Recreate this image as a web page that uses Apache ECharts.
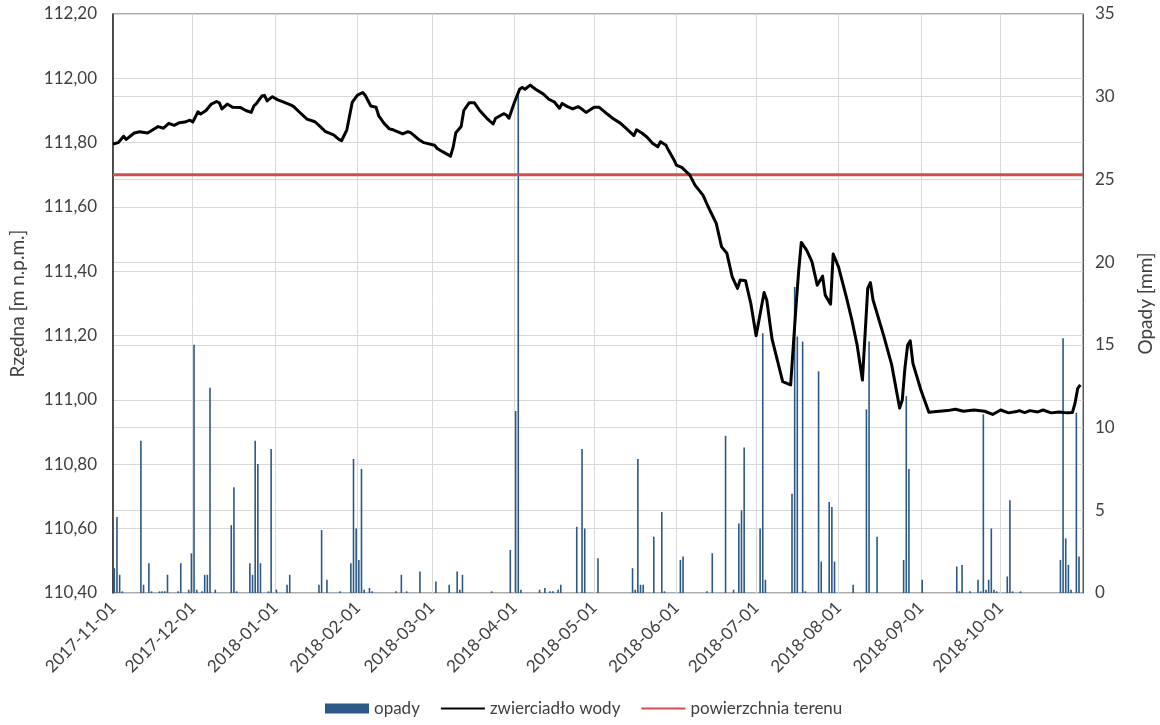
<!DOCTYPE html>
<html>
<head>
<meta charset="utf-8">
<title>Zwierciadło wody i opady</title>
<script src="https://cdn.jsdelivr.net/npm/echarts@6/dist/echarts.min.js"></script>
<style>
  html, body { margin: 0; padding: 0; background: #ffffff; }
  #chart { width: 1160px; height: 725px; }
</style>
</head>
<body>
<div id="chart"></div>
<script>
// Month starts used for ticks, labels and vertical grid lines
const monthTicks = [
  '2017-11-01', '2017-12-01', '2018-01-01', '2018-02-01', '2018-03-01', '2018-04-01',
  '2018-05-01', '2018-06-01', '2018-07-01', '2018-08-01', '2018-09-01', '2018-10-01'
];
const axisStart = '2017-11-01';
const axisEnd = '2018-11-01';

// Ground-water table [m n.p.m.]
const levelDates = [
  '2017-11-01', '2017-11-03', '2017-11-05', '2017-11-06', '2017-11-09', '2017-11-11', '2017-11-14',
  '2017-11-16', '2017-11-18', '2017-11-20', '2017-11-22', '2017-11-24', '2017-11-26', '2017-11-28',
  '2017-11-30', '2017-12-01', '2017-12-03', '2017-12-04', '2017-12-06', '2017-12-08', '2017-12-10',
  '2017-12-11', '2017-12-12', '2017-12-14', '2017-12-16', '2017-12-19', '2017-12-21', '2017-12-23',
  '2017-12-24', '2017-12-25', '2017-12-27', '2017-12-28', '2017-12-29', '2017-12-31', '2018-01-02',
  '2018-01-04', '2018-01-07', '2018-01-08', '2018-01-10', '2018-01-13', '2018-01-16', '2018-01-18',
  '2018-01-20', '2018-01-23', '2018-01-25', '2018-01-26', '2018-01-28', '2018-01-30', '2018-02-01',
  '2018-02-03', '2018-02-04', '2018-02-06', '2018-02-08', '2018-02-09', '2018-02-11', '2018-02-13',
  '2018-02-14', '2018-02-18', '2018-02-20', '2018-02-21', '2018-02-24', '2018-02-26', '2018-03-02',
  '2018-03-03', '2018-03-05', '2018-03-08', '2018-03-09', '2018-03-10', '2018-03-12', '2018-03-13',
  '2018-03-15', '2018-03-17', '2018-03-19', '2018-03-22', '2018-03-24', '2018-03-25', '2018-03-28',
  '2018-03-29', '2018-03-30', '2018-04-01', '2018-04-03', '2018-04-04', '2018-04-05', '2018-04-07',
  '2018-04-09', '2018-04-12', '2018-04-14', '2018-04-16', '2018-04-18', '2018-04-19', '2018-04-21',
  '2018-04-23', '2018-04-25', '2018-04-26', '2018-04-28', '2018-05-01', '2018-05-03', '2018-05-06',
  '2018-05-08', '2018-05-11', '2018-05-13', '2018-05-16', '2018-05-17', '2018-05-19', '2018-05-21',
  '2018-05-23', '2018-05-25', '2018-05-26', '2018-05-28', '2018-05-29', '2018-05-31', '2018-06-01',
  '2018-06-03', '2018-06-06', '2018-06-08', '2018-06-11', '2018-06-13', '2018-06-16', '2018-06-18',
  '2018-06-20', '2018-06-22', '2018-06-24', '2018-06-25', '2018-06-27', '2018-06-29', '2018-07-01',
  '2018-07-04', '2018-07-05', '2018-07-07', '2018-07-11', '2018-07-14', '2018-07-15', '2018-07-16',
  '2018-07-17', '2018-07-18', '2018-07-20', '2018-07-22', '2018-07-24', '2018-07-26', '2018-07-27',
  '2018-07-29', '2018-07-30', '2018-08-01', '2018-08-04', '2018-08-06', '2018-08-08', '2018-08-10',
  '2018-08-12', '2018-08-13', '2018-08-14', '2018-08-18', '2018-08-21', '2018-08-24', '2018-08-25',
  '2018-08-26', '2018-08-27', '2018-08-28', '2018-08-29', '2018-09-01', '2018-09-04', '2018-09-11',
  '2018-09-14', '2018-09-17', '2018-09-21', '2018-09-25', '2018-09-28', '2018-10-01', '2018-10-04',
  '2018-10-07', '2018-10-08', '2018-10-10', '2018-10-12', '2018-10-15', '2018-10-17', '2018-10-20',
  '2018-10-23', '2018-10-26', '2018-10-28', '2018-10-29', '2018-10-30', '2018-10-31'
];
const levelValues = [
  111.796, 111.800, 111.820, 111.810, 111.830, 111.834, 111.830,
  111.840, 111.850, 111.845, 111.860, 111.854, 111.862, 111.864,
  111.870, 111.864, 111.896, 111.889, 111.900, 111.920, 111.928,
  111.924, 111.905, 111.920, 111.910, 111.909, 111.900, 111.894,
  111.914, 111.922, 111.945, 111.947, 111.930, 111.943, 111.933,
  111.927, 111.917, 111.912, 111.896, 111.873, 111.865, 111.850,
  111.834, 111.824, 111.810, 111.806, 111.840, 111.925, 111.948,
  111.956, 111.946, 111.914, 111.910, 111.883, 111.860, 111.843,
  111.841, 111.827, 111.834, 111.831, 111.810, 111.800, 111.792,
  111.782, 111.772, 111.758, 111.786, 111.831, 111.850, 111.900,
  111.924, 111.924, 111.900, 111.873, 111.858, 111.876, 111.890,
  111.886, 111.876, 111.924, 111.966, 111.972, 111.966, 111.979,
  111.966, 111.951, 111.935, 111.927, 111.907, 111.922, 111.912,
  111.905, 111.912, 111.907, 111.894, 111.910, 111.910, 111.889,
  111.876, 111.860, 111.845, 111.822, 111.840, 111.830, 111.817,
  111.798, 111.787, 111.803, 111.793, 111.777, 111.748, 111.730,
  111.723, 111.700, 111.668, 111.637, 111.600, 111.549, 111.476,
  111.456, 111.383, 111.347, 111.373, 111.371, 111.300, 111.200,
  111.334, 111.311, 111.189, 111.057, 111.047, 111.170, 111.290,
  111.400, 111.490, 111.466, 111.430, 111.357, 111.385, 111.326,
  111.298, 111.454, 111.414, 111.318, 111.250, 111.171, 111.062,
  111.347, 111.365, 111.311, 111.200, 111.110, 110.975, 111.000,
  111.100, 111.170, 111.184, 111.114, 111.031, 110.962, 110.967,
  110.971, 110.965, 110.969, 110.965, 110.955, 110.969, 110.960,
  110.964, 110.967, 110.961, 110.967, 110.963, 110.969, 110.960,
  110.963, 110.960, 110.961, 110.990, 111.036, 111.047
];

// Daily precipitation totals [mm]
const rainDates = [
  '2017-11-01', '2017-11-02', '2017-11-03', '2017-11-04', '2017-11-11', '2017-11-12', '2017-11-14',
  '2017-11-15', '2017-11-18', '2017-11-19', '2017-11-20', '2017-11-21', '2017-11-25', '2017-11-26',
  '2017-11-29', '2017-11-30', '2017-12-01', '2017-12-02', '2017-12-04', '2017-12-05', '2017-12-06',
  '2017-12-07', '2017-12-09', '2017-12-15', '2017-12-16', '2017-12-17', '2017-12-22', '2017-12-23',
  '2017-12-24', '2017-12-25', '2017-12-26', '2017-12-29', '2017-12-30', '2018-01-01', '2018-01-05',
  '2018-01-06', '2018-01-17', '2018-01-18', '2018-01-20', '2018-01-25', '2018-01-29', '2018-01-30',
  '2018-01-31', '2018-02-01', '2018-02-02', '2018-02-03', '2018-02-05', '2018-02-06', '2018-02-15',
  '2018-02-17', '2018-02-19', '2018-02-24', '2018-03-02', '2018-03-07', '2018-03-10', '2018-03-11',
  '2018-03-12', '2018-03-23', '2018-03-30', '2018-04-01', '2018-04-02', '2018-04-03', '2018-04-10',
  '2018-04-12', '2018-04-14', '2018-04-15', '2018-04-17', '2018-04-18', '2018-04-24', '2018-04-26',
  '2018-04-27', '2018-05-02', '2018-05-15', '2018-05-16', '2018-05-17', '2018-05-18', '2018-05-19',
  '2018-05-23', '2018-05-26', '2018-05-27', '2018-06-02', '2018-06-03', '2018-06-12', '2018-06-14',
  '2018-06-19', '2018-06-22', '2018-06-24', '2018-06-25', '2018-06-26', '2018-07-02', '2018-07-03',
  '2018-07-04', '2018-07-14', '2018-07-15', '2018-07-16', '2018-07-18', '2018-07-19', '2018-07-24',
  '2018-07-25', '2018-07-28', '2018-07-29', '2018-07-30', '2018-08-06', '2018-08-11', '2018-08-12',
  '2018-08-15', '2018-08-25', '2018-08-26', '2018-08-27', '2018-09-01', '2018-09-14', '2018-09-15',
  '2018-09-16', '2018-09-19', '2018-09-22', '2018-09-23', '2018-09-24', '2018-09-25', '2018-09-26',
  '2018-09-27', '2018-09-28', '2018-09-29', '2018-10-03', '2018-10-04', '2018-10-05', '2018-10-08',
  '2018-10-23', '2018-10-24', '2018-10-25', '2018-10-26', '2018-10-27', '2018-10-29', '2018-10-30'
];
const rainValues = [
  1.5, 4.6, 1.1, 0.1, 9.2, 0.5, 1.8,
  0.1, 0.1, 0.1, 0.1, 1.1, 0.1, 1.8,
  0.2, 2.4, 15.0, 0.2, 0.1, 1.1, 1.1,
  12.4, 0.2, 4.1, 6.4, 0.1, 1.8, 1.1,
  9.2, 7.8, 1.8, 0.1, 8.7, 0.2, 0.5,
  1.1, 0.5, 3.8, 0.8, 0.1, 1.8, 8.1,
  3.9, 2.0, 7.5, 0.2, 0.3, 0.1, 0.1,
  1.1, 0.1, 1.3, 0.7, 0.5, 1.3, 0.2,
  1.1, 0.1, 2.6, 11.0, 30.3, 0.2, 0.2,
  0.3, 0.1, 0.1, 0.2, 0.5, 4.0, 8.7,
  3.9, 2.1, 1.5, 0.2, 8.1, 0.5, 0.5,
  3.4, 4.9, 0.1, 2.0, 2.2, 0.1, 2.4,
  9.5, 0.2, 4.2, 5.0, 8.8, 3.9, 15.7,
  0.8, 6.0, 18.5, 15.5, 15.2, 0.1, 13.4,
  1.9, 5.5, 5.2, 1.9, 0.5, 11.1, 15.2,
  3.4, 2.0, 11.9, 7.5, 0.8, 1.6, 0.1,
  1.7, 0.1, 0.8, 0.1, 10.8, 0.2, 0.8,
  3.9, 0.2, 0.1, 1.0, 5.6, 0.1, 0.1,
  2.0, 15.4, 3.3, 1.7, 0.2, 10.9, 2.2
];

// Ground surface elevation [m n.p.m.]
const terrainLevel = 111.70;

const FONT = 'Lato';
const TEXT = '#404040';
const HALF_DAY = 12 * 3600 * 1000;

const chart = echarts.init(document.getElementById('chart'), null, { renderer: 'canvas' });

const pad = n => (n < 10 ? '0' : '') + n;
const fmtDate = v => {
  const d = new Date(v);
  return d.getFullYear() + '-' + pad(d.getMonth() + 1) + '-' + pad(d.getDate());
};
const parseLocal = s => new Date(s + 'T00:00:00').getTime();

// A day's total is drawn in the middle of that day
const rainData = rainDates.map((d, i) => [parseLocal(d) + HALF_DAY, rainValues[i]]);
const levelData = levelDates.map((d, i) => [parseLocal(d), levelValues[i]]);
const terrainData = [[parseLocal(axisStart), terrainLevel], [parseLocal(axisEnd), terrainLevel]];
const tickValues = monthTicks.map(parseLocal);

chart.setOption({
  animation: false,
  backgroundColor: '#ffffff',
  textStyle: { fontFamily: FONT, color: TEXT },
  grid: {
    left: 113, right: 77, top: 14, bottom: 132,
    outerBoundsMode: 'none',
    show: true, borderColor: '#595959', borderWidth: 1
  },
  legend: {
    bottom: 3, left: 320,
    itemWidth: 44, itemHeight: 10, itemGap: 20,
    textStyle: { fontFamily: FONT, fontSize: 17, color: TEXT },
    data: [
      { name: 'opady', icon: 'rect' },
      { name: 'zwierciadło wody', itemStyle: { opacity: 0 } },
      { name: 'powierzchnia terenu', itemStyle: { opacity: 0 } }
    ]
  },
  xAxis: {
    // time values (ms) on a linear scale, ticked at month starts
    type: 'value',
    min: parseLocal(axisStart),
    max: parseLocal(axisEnd),
    axisLine: { show: false },
    axisTick: { show: false, customValues: tickValues },
    splitLine: { show: true, lineStyle: { color: '#d9d9d9', width: 1 } },
    axisLabel: {
      customValues: tickValues,
      rotate: 45,
      margin: 12,
      fontFamily: FONT,
      fontSize: 17,
      color: TEXT,
      formatter: v => fmtDate(v)
    }
  },
  yAxis: [
    {
      type: 'value',
      min: 110.4, max: 112.2, interval: 0.2,
      name: 'Rzędna [m n.p.m.]',
      nameLocation: 'middle', nameRotate: 90, nameGap: 86,
      nameTextStyle: { fontFamily: FONT, fontSize: 19, color: TEXT },
      axisLine: { show: true, lineStyle: { color: '#262626', width: 1.5 } },
      axisTick: { show: false },
      splitLine: { show: true, lineStyle: { color: '#d9d9d9', width: 1 } },
      axisLabel: {
        margin: 16, fontFamily: FONT, fontSize: 17, color: TEXT,
        formatter: v => v.toFixed(2).replace('.', ',')
      }
    },
    {
      type: 'value',
      min: 0, max: 35, interval: 5,
      position: 'right',
      name: 'Opady [mm]',
      nameLocation: 'middle', nameRotate: 90, nameGap: 53,
      nameTextStyle: { fontFamily: FONT, fontSize: 19, color: TEXT },
      axisLine: { show: true, lineStyle: { color: '#595959', width: 1 } },
      axisTick: { show: false },
      splitLine: { show: true, lineStyle: { color: '#d9d9d9', width: 1 } },
      axisLabel: { margin: 12, fontFamily: FONT, fontSize: 17, color: TEXT }
    }
  ],
  series: [
    {
      name: 'opady',
      type: 'bar',
      yAxisIndex: 1,
      barWidth: 1.6,
      itemStyle: { color: '#2b5886' },
      data: rainData
    },
    {
      name: 'powierzchnia terenu',
      type: 'line',
      yAxisIndex: 0,
      symbol: 'none',
      lineStyle: { color: '#d24f4f', width: 3 },
      itemStyle: { color: '#d24f4f' },
      data: terrainData
    },
    {
      name: 'zwierciadło wody',
      type: 'line',
      yAxisIndex: 0,
      symbol: 'none',
      lineStyle: { color: '#000000', width: 3, join: 'round' },
      itemStyle: { color: '#000000' },
      data: levelData
    }
  ]
});
</script>
</body>
</html>
